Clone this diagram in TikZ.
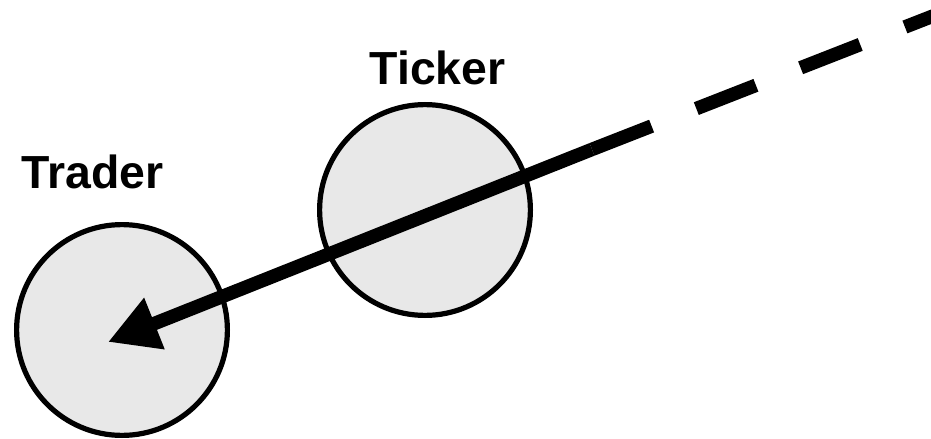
\documentclass[tikz,border=0pt]{standalone}
\usepackage{fontspec}
\setmainfont{Liberation Sans}
\usetikzlibrary{arrows.meta,positioning}

\begin{document}
\begin{tikzpicture}[
    party/.style={draw, circle, line width=0.13cm, fill=black!9, minimum size=5.27cm, inner sep=0pt},
    tag/.style={anchor=base, font=\fontsize{33}{40}\selectfont\bfseries},
    feedline/.style={line width=0.34cm, dash pattern=on 1.6cm off 1.2cm},
    flowarrow/.style={line width=0.34cm, -{Triangle[length=1.25cm, width=1.3cm]}}
]
\useasboundingbox (0,0) rectangle (23.275,-10.975);

\node[party] (trader) at (3.05,-8.25) {};
\node[party] (ticker) at (10.625,-5.25) {};
\node[tag] (tradername) at (2.31,-4.70) {Trader};
\node[tag] (tickername) at (10.94,-2.125) {Ticker};

% feed comes in from off the page
\coordinate (feed) at (25.5,0.45);
\coordinate (relay) at (14.8,-3.735);
\coordinate (tip) at (2.7,-8.55);

\draw[feedline] (relay) -- (feed);
\draw[flowarrow] (relay) -- (tip);

\end{tikzpicture}
\end{document}
